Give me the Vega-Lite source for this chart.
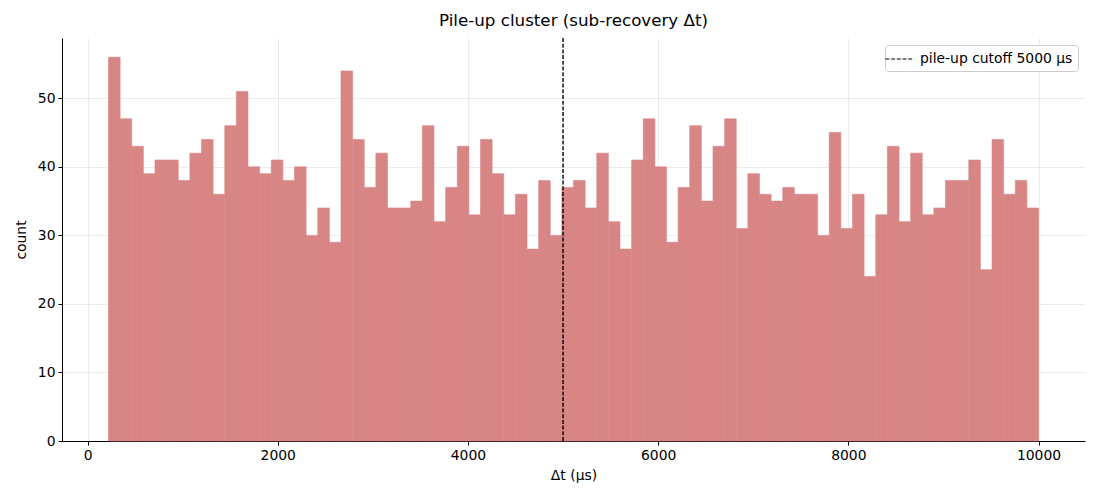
{
  "$schema": "https://vega.github.io/schema/vega-lite/v6.json",
  "autosize": "none",
  "width": 1023,
  "height": 403,
  "padding": {"left": 62, "top": 38, "right": 15, "bottom": 59},
  "background": "white",
  "title": {
    "text": "Pile-up cluster (sub-recovery Δt)",
    "fontSize": 16.7,
    "fontWeight": "normal",
    "font": "DejaVu Sans",
    "color": "black",
    "offset": 8
  },
  "datasets": {
    "hist": [
      {"bin_start": 220, "bin_end": 342.25, "count": 56},
      {"bin_start": 342.25, "bin_end": 464.5, "count": 47},
      {"bin_start": 464.5, "bin_end": 586.75, "count": 43},
      {"bin_start": 586.75, "bin_end": 709, "count": 39},
      {"bin_start": 709, "bin_end": 831.25, "count": 41},
      {"bin_start": 831.25, "bin_end": 953.5, "count": 41},
      {"bin_start": 953.5, "bin_end": 1075.75, "count": 38},
      {"bin_start": 1075.75, "bin_end": 1198, "count": 42},
      {"bin_start": 1198, "bin_end": 1320.25, "count": 44},
      {"bin_start": 1320.25, "bin_end": 1442.5, "count": 36},
      {"bin_start": 1442.5, "bin_end": 1564.75, "count": 46},
      {"bin_start": 1564.75, "bin_end": 1687, "count": 51},
      {"bin_start": 1687, "bin_end": 1809.25, "count": 40},
      {"bin_start": 1809.25, "bin_end": 1931.5, "count": 39},
      {"bin_start": 1931.5, "bin_end": 2053.75, "count": 41},
      {"bin_start": 2053.75, "bin_end": 2176, "count": 38},
      {"bin_start": 2176, "bin_end": 2298.25, "count": 40},
      {"bin_start": 2298.25, "bin_end": 2420.5, "count": 30},
      {"bin_start": 2420.5, "bin_end": 2542.75, "count": 34},
      {"bin_start": 2542.75, "bin_end": 2665, "count": 29},
      {"bin_start": 2665, "bin_end": 2787.25, "count": 54},
      {"bin_start": 2787.25, "bin_end": 2909.5, "count": 44},
      {"bin_start": 2909.5, "bin_end": 3031.75, "count": 37},
      {"bin_start": 3031.75, "bin_end": 3154, "count": 42},
      {"bin_start": 3154, "bin_end": 3276.25, "count": 34},
      {"bin_start": 3276.25, "bin_end": 3398.5, "count": 34},
      {"bin_start": 3398.5, "bin_end": 3520.75, "count": 35},
      {"bin_start": 3520.75, "bin_end": 3643, "count": 46},
      {"bin_start": 3643, "bin_end": 3765.25, "count": 32},
      {"bin_start": 3765.25, "bin_end": 3887.5, "count": 37},
      {"bin_start": 3887.5, "bin_end": 4009.75, "count": 43},
      {"bin_start": 4009.75, "bin_end": 4132, "count": 33},
      {"bin_start": 4132, "bin_end": 4254.25, "count": 44},
      {"bin_start": 4254.25, "bin_end": 4376.5, "count": 39},
      {"bin_start": 4376.5, "bin_end": 4498.75, "count": 33},
      {"bin_start": 4498.75, "bin_end": 4621, "count": 36},
      {"bin_start": 4621, "bin_end": 4743.25, "count": 28},
      {"bin_start": 4743.25, "bin_end": 4865.5, "count": 38},
      {"bin_start": 4865.5, "bin_end": 4987.75, "count": 30},
      {"bin_start": 4987.75, "bin_end": 5110, "count": 37},
      {"bin_start": 5110, "bin_end": 5232.25, "count": 38},
      {"bin_start": 5232.25, "bin_end": 5354.5, "count": 34},
      {"bin_start": 5354.5, "bin_end": 5476.75, "count": 42},
      {"bin_start": 5476.75, "bin_end": 5599, "count": 32},
      {"bin_start": 5599, "bin_end": 5721.25, "count": 28},
      {"bin_start": 5721.25, "bin_end": 5843.5, "count": 41},
      {"bin_start": 5843.5, "bin_end": 5965.75, "count": 47},
      {"bin_start": 5965.75, "bin_end": 6088, "count": 40},
      {"bin_start": 6088, "bin_end": 6210.25, "count": 29},
      {"bin_start": 6210.25, "bin_end": 6332.5, "count": 37},
      {"bin_start": 6332.5, "bin_end": 6454.75, "count": 46},
      {"bin_start": 6454.75, "bin_end": 6577, "count": 35},
      {"bin_start": 6577, "bin_end": 6699.25, "count": 43},
      {"bin_start": 6699.25, "bin_end": 6821.5, "count": 47},
      {"bin_start": 6821.5, "bin_end": 6943.75, "count": 31},
      {"bin_start": 6943.75, "bin_end": 7066, "count": 39},
      {"bin_start": 7066, "bin_end": 7188.25, "count": 36},
      {"bin_start": 7188.25, "bin_end": 7310.5, "count": 35},
      {"bin_start": 7310.5, "bin_end": 7432.75, "count": 37},
      {"bin_start": 7432.75, "bin_end": 7555, "count": 36},
      {"bin_start": 7555, "bin_end": 7677.25, "count": 36},
      {"bin_start": 7677.25, "bin_end": 7799.5, "count": 30},
      {"bin_start": 7799.5, "bin_end": 7921.75, "count": 45},
      {"bin_start": 7921.75, "bin_end": 8044, "count": 31},
      {"bin_start": 8044, "bin_end": 8166.25, "count": 36},
      {"bin_start": 8166.25, "bin_end": 8288.5, "count": 24},
      {"bin_start": 8288.5, "bin_end": 8410.75, "count": 33},
      {"bin_start": 8410.75, "bin_end": 8533, "count": 43},
      {"bin_start": 8533, "bin_end": 8655.25, "count": 32},
      {"bin_start": 8655.25, "bin_end": 8777.5, "count": 42},
      {"bin_start": 8777.5, "bin_end": 8899.75, "count": 33},
      {"bin_start": 8899.75, "bin_end": 9022, "count": 34},
      {"bin_start": 9022, "bin_end": 9144.25, "count": 38},
      {"bin_start": 9144.25, "bin_end": 9266.5, "count": 38},
      {"bin_start": 9266.5, "bin_end": 9388.75, "count": 41},
      {"bin_start": 9388.75, "bin_end": 9511, "count": 25},
      {"bin_start": 9511, "bin_end": 9633.25, "count": 44},
      {"bin_start": 9633.25, "bin_end": 9755.5, "count": 36},
      {"bin_start": 9755.5, "bin_end": 9877.75, "count": 38},
      {"bin_start": 9877.75, "bin_end": 10000, "count": 34}
    ],
    "cutoff": [
      {"dt": 5000, "label": "pile-up cutoff 5000 μs"}
    ]
  },
  "layer": [
    {
      "data": {"name": "hist"},
      "mark": {"type": "rect", "fill": "#d88585", "stroke": "#d88585", "strokeWidth": 0.6},
      "encoding": {
        "x": {
          "field": "bin_start",
          "type": "quantitative",
          "title": "Δt (μs)",
          "scale": {"domain": [-269, 10489], "nice": false, "zero": false},
          "axis": {"values": [0, 2000, 4000, 6000, 8000, 10000], "format": "d"}
        },
        "x2": {"field": "bin_end"},
        "y": {
          "field": "count",
          "type": "quantitative",
          "title": "count",
          "scale": {"domain": [0, 58.8], "nice": false},
          "axis": {"values": [0, 10, 20, 30, 40, 50]}
        },
        "y2": {"datum": 0}
      }
    },
    {
      "data": {"name": "cutoff"},
      "mark": {"type": "rule", "color": "black", "strokeWidth": 1.4},
      "encoding": {
        "x": {"field": "dt", "type": "quantitative"},
        "strokeDash": {
          "field": "label",
          "type": "nominal",
          "scale": {"range": [[4, 1.7]]},
          "legend": {"title": null}
        }
      }
    }
  ],
  "config": {
    "font": "DejaVu Sans",
    "view": {"stroke": null},
    "axis": {
      "zindex": 1,
      "domainColor": "black",
      "domainWidth": 1,
      "tickColor": "black",
      "tickSize": 4,
      "tickWidth": 1,
      "labelFontSize": 13.9,
      "labelColor": "black",
      "labelPadding": 3,
      "titleFontSize": 13.9,
      "titleFontWeight": "normal",
      "titleColor": "black",
      "gridColor": "#b0b0b0",
      "gridOpacity": 0.3,
      "gridWidth": 0.8
    },
    "axisX": {"titlePadding": 7},
    "axisY": {"titlePadding": 9},
    "legend": {
      "orient": "top-right",
      "offset": 7,
      "padding": 5,
      "strokeColor": "#cccccc",
      "fillColor": "white",
      "cornerRadius": 3,
      "symbolType": "M-1.7,0H1.7",
      "symbolStrokeColor": "black",
      "symbolStrokeWidth": 1.2,
      "symbolSize": 256,
      "labelFontSize": 13.9,
      "labelColor": "black",
      "labelOffset": 12
    }
  }
}
